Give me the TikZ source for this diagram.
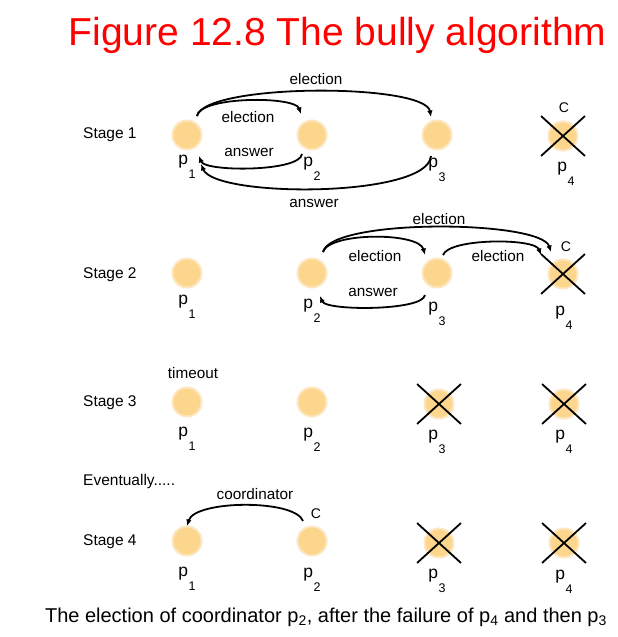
\documentclass[tikz,border=0pt]{standalone}
\usepackage{fontspec}
\setmainfont{Liberation Sans}
\usetikzlibrary{arrows.meta,calc,shapes.misc}
\definecolor{dotfill}{RGB}{252,214,140}
\definecolor{dotedge}{RGB}{253,231,194}
\definecolor{titlered}{RGB}{255,0,0}
\newcommand\pl[1]{p\kern0.5pt\raisebox{-0.8em}{\fontsize{12.5}{12.5}\selectfont #1}}
\begin{document}
\begin{tikzpicture}[x=1pt,y=-1pt,
  proc/.style={circle, fill=dotfill, draw=dotedge, line width=2pt, minimum size=29pt, inner sep=0pt},
  xmark/.style={cross out, draw=black, line width=1.8pt, minimum width=42pt, minimum height=38pt, inner sep=0pt},
  plabel/.style={font=\fontsize{17.5}{17.5}\selectfont, anchor=base, inner sep=0pt},
  lbl/.style={font=\fontsize{15.3}{15.3}\selectfont, inner sep=0pt},
  clbl/.style={font=\fontsize{14}{14}\selectfont, inner sep=0pt},
  stage/.style={font=\fontsize{15.5}{16}\selectfont, anchor=west, inner sep=0pt},
  arr/.style={line width=1.8pt, -{Latex[length=6.5pt,width=5.5pt]}}]
\useasboundingbox (0,0) rectangle (618,637);
\fill[white] (0,0) rectangle (618,637);

\node[font=\fontsize{39}{40}\selectfont, text=titlered, inner sep=0pt] (title) at (337.5,35) {Figure 12.8 The bully algorithm};

% ---------- Stage 1
\node[stage] (st1) at (83,135) {Stage 1};
\node[proc] (s1a) at (187,135) {};
\node[proc] (s1b) at (312,135) {};
\node[proc] (s1c) at (437,135) {};
\node[proc] (s1d) at (563,136) {};
\node[xmark] (x1d) at (s1d) {};
\node[clbl] (c1) at (564,108) {C};
\node[plabel] (l1a) at (187,164) {\pl1};
\node[plabel] (l1b) at (312,166) {\pl2};
\node[plabel] (l1c) at (437,167) {\pl3};
\node[plabel] (l1d) at (566,171) {\pl4};

\draw[arr] ($(s1a)+(10,-19)$) .. controls +(8,-33) and +(-6,-34) .. ($(s1c)+(-6,-18)$);
\draw[arr] ($(s1a)+(10,-19)$) .. controls +(3,-20) and +(-6,-18) .. ($(s1b)+(-11,-21)$);
\draw[arr] ($(s1b)+(-10,19)$) .. controls +(-2,18) and +(6,16) .. ($(s1a)+(12,21)$);
\draw[arr] ($(s1c)+(-6,21)$) .. controls +(-3,42) and +(14,34) .. ($(s1a)+(14,29)$);
\node[lbl] (e1a) at (316,79) {election};
\node[lbl] (e1b) at (248,117) {election};
\node[lbl] (a1a) at (249,152) {answer};
\node[lbl] (a1b) at (314,203) {answer};

% ---------- Stage 2
\node[stage] (st2) at (83,275) {Stage 2};
\node[proc] (s2a) at (187,273) {};
\node[proc] (s2b) at (312,273) {};
\node[proc] (s2c) at (437,273) {};
\node[proc] (s2d) at (563,274) {};
\node[xmark] (x2d) at (s2d) {};
\node[clbl] (c2) at (566,247) {C};
\node[plabel] (l2a) at (187,304) {\pl1};
\node[plabel] (l2b) at (312,308) {\pl2};
\node[plabel] (l2c) at (437,311) {\pl3};
\node[plabel] (l2d) at (564,315) {\pl4};

\draw[arr] ($(s2b)+(11,-21)$) .. controls +(8,-34) and +(-10,-32) .. ($(s2d)+(-12,-22)$);
\draw[arr] ($(s2b)+(11,-21)$) .. controls +(6,-20) and +(-6,-23) .. ($(s2c)+(-12,-18)$);
\draw[arr] ($(s2c)+(6,-18)$) .. controls +(6,-17) and +(-6,-17) .. ($(s2d)+(-22,-19)$);
\draw[arr] ($(s2c)+(-12,22)$) .. controls +(-2,16) and +(6,15) .. ($(s2b)+(8,23)$);
\node[lbl] (e2a) at (439,219) {election};
\node[lbl] (e2b) at (375,256) {election};
\node[lbl] (e2c) at (498,256) {election};
\node[lbl] (a2a) at (373,292) {answer};

% ---------- Stage 3
\node[lbl] (to) at (193,373) {timeout};
\node[stage] (st3) at (83,403) {Stage 3};
\node[proc] (s3a) at (187,402) {};
\node[proc] (s3b) at (312,402) {};
\node[proc] (s3c) at (439,404) {};
\node[proc] (s3d) at (564,404) {};
\node[xmark] (x3c) at (s3c) {};
\node[xmark] (x3d) at (s3d) {};
\node[plabel] (l3a) at (187,436) {\pl1};
\node[plabel] (l3b) at (312,437) {\pl2};
\node[plabel] (l3c) at (437,439) {\pl3};
\node[plabel] (l3d) at (564,439) {\pl4};

% ---------- Eventually / Stage 4
\node[stage] (ev) at (83,481) {Eventually.....};
\node[stage] (st4) at (83,542) {Stage 4};
\node[proc] (s4a) at (187,541) {};
\node[proc] (s4b) at (312,541) {};
\node[proc] (s4c) at (439,543) {};
\node[proc] (s4d) at (564,543) {};
\node[xmark] (x4c) at (s4c) {};
\node[xmark] (x4d) at (s4d) {};
\node[clbl] (c4) at (316,514) {C};
\node[plabel] (l4a) at (187,576) {\pl1};
\node[plabel] (l4b) at (312,577) {\pl2};
\node[plabel] (l4c) at (437,578) {\pl3};
\node[plabel] (l4d) at (564,579) {\pl4};
\draw[arr] ($(s4b)+(-9,-20)$) .. controls +(-8,-22) and +(8,-26) .. ($(s4a)+(0,-15)$);
\node[lbl] (co) at (255,494) {coordinator};

% ---------- caption
\node[font=\fontsize{20}{20}\selectfont, inner sep=0pt] (cap) at (326,617) {The election of coordinator p\textsubscript{2}, after the failure of p\textsubscript{4} and then p\textsubscript{3}};
\end{tikzpicture}
\end{document}
